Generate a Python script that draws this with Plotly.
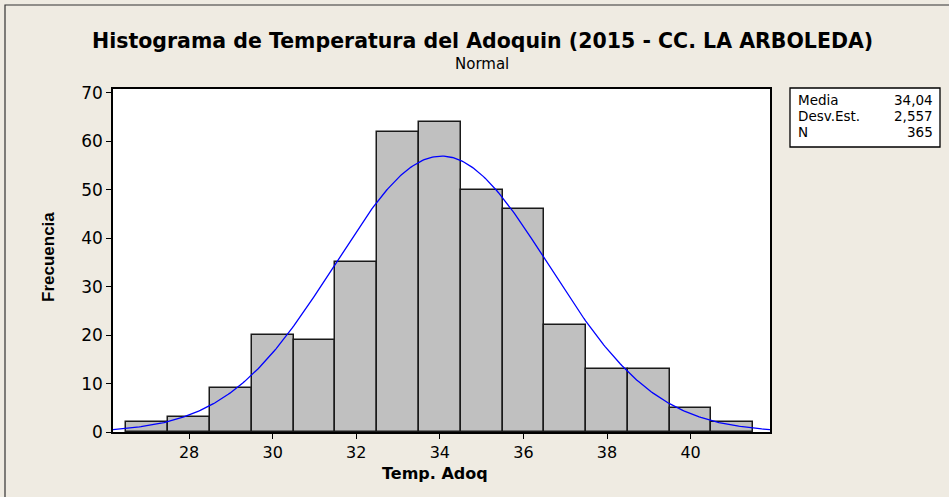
import numpy as np
import plotly.graph_objects as go

# Data
bin_centers = [27, 28, 29, 30, 31, 32, 33, 34, 35, 36, 37, 38, 39, 40, 41]
counts = [2, 3, 9, 20, 19, 35, 62, 64, 50, 46, 22, 13, 13, 5, 2]
mean_val = 34.04
sd_val = 2.557
n_val = 365
x_ticks = [28, 30, 32, 34, 36, 38, 40]
y_ticks = [0, 10, 20, 30, 40, 50, 60, 70]
stat_labels = ["Media", "Desv.Est.", "N"]
stat_values = ["34,04", "2,557", "365"]

x_min, x_max = 26.18, 41.9
bin_width = 1.0

# fitted normal curve from the shown mean / sd / N
xc = np.linspace(x_min, x_max, 400)
yc = n_val * bin_width / (sd_val * np.sqrt(2 * np.pi)) * np.exp(-0.5 * ((xc - mean_val) / sd_val) ** 2)

BG = "#EFEBE2"
FONT = "DejaVu Sans"
L, R, T, B = 113, 179, 89, 65
W, H = 949, 497
pw, ph = float(W - L - R), float(H - T - B)

def px(xp):
    return (xp - L) / pw

def py(yp):
    return (H - B - yp) / ph

fig = go.Figure()
fig.add_trace(go.Bar(
    x=bin_centers, y=counts, width=bin_width,
    marker=dict(color="#C0C0C0", line=dict(color="#1a1a1a", width=1.5)),
    hoverinfo="x+y", showlegend=False,
))
fig.add_trace(go.Scatter(
    x=xc, y=yc, mode="lines",
    line=dict(color="#0000FF", width=1.3),
    showlegend=False, hoverinfo="skip",
))

fig.update_layout(
    width=W, height=H,
    paper_bgcolor=BG, plot_bgcolor="white",
    margin=dict(l=L, r=R, t=T, b=B),
    font=dict(family=FONT, color="black"),
    bargap=0,
    xaxis=dict(
        range=[x_min, x_max], tickvals=x_ticks, ticks="outside", ticklen=5,
        tickwidth=1.2, tickcolor="black", showgrid=False, zeroline=False,
        showline=True, linecolor="black", linewidth=1.5, mirror=True,
        tickfont=dict(size=16, family=FONT),
    ),
    yaxis=dict(
        range=[0, 70.8], tickvals=y_ticks, ticks="outside", ticklen=5,
        tickwidth=1.2, tickcolor="black", showgrid=False, zeroline=False,
        showline=True, linecolor="black", linewidth=1.5, mirror=True,
        tickfont=dict(size=17, family=FONT),
    ),
)

# axis titles
fig.add_annotation(xref="paper", yref="paper", x=px(435), y=py(473),
                   xanchor="center", yanchor="middle", showarrow=False,
                   text="<b>Temp. Adoq</b>", font=dict(size=16, family=FONT))
fig.add_annotation(xref="paper", yref="paper", x=px(48), y=py(257),
                   xanchor="center", yanchor="middle", showarrow=False, textangle=-90,
                   text="<b>Frecuencia</b>",
                   font=dict(size=17, family="Liberation Sans Narrow, Liberation Sans"))

# titles
fig.add_annotation(xref="paper", yref="paper", x=px(482), y=py(41),
                   xanchor="center", yanchor="middle", showarrow=False,
                   text="<b>Histograma de Temperatura del Adoquin (2015 - CC. LA ARBOLEDA)</b>",
                   font=dict(size=20.5, family=FONT))
fig.add_annotation(xref="paper", yref="paper", x=px(482), y=py(64),
                   xanchor="center", yanchor="middle", showarrow=False,
                   text="Normal", font=dict(size=15, family=FONT))

# outer frame
fig.add_shape(type="rect", xref="paper", yref="paper",
              x0=px(5), x1=px(960), y0=py(510), y1=py(5),
              line=dict(color="#333333", width=1.2), fillcolor="rgba(0,0,0,0)", layer="below")

# stats box
fig.add_shape(type="rect", xref="paper", yref="paper",
              x0=px(790), x1=px(940), y0=py(147), y1=py(88),
              line=dict(color="black", width=1.3), fillcolor="white")
for i, (lab, val) in enumerate(zip(stat_labels, stat_values)):
    yy = py(100 + 16 * i)
    fig.add_annotation(xref="paper", yref="paper", x=px(796), y=yy, xanchor="left", yanchor="middle",
                       text=lab, showarrow=False, font=dict(size=13.5, family=FONT))
    fig.add_annotation(xref="paper", yref="paper", x=px(935), y=yy, xanchor="right", yanchor="middle",
                       text=val, showarrow=False, font=dict(size=13.5, family=FONT))

fig.write_html("out.html", config={"displayModeBar": False},
               post_script="document.body.style.margin='0';document.body.style.overflow='hidden';")
